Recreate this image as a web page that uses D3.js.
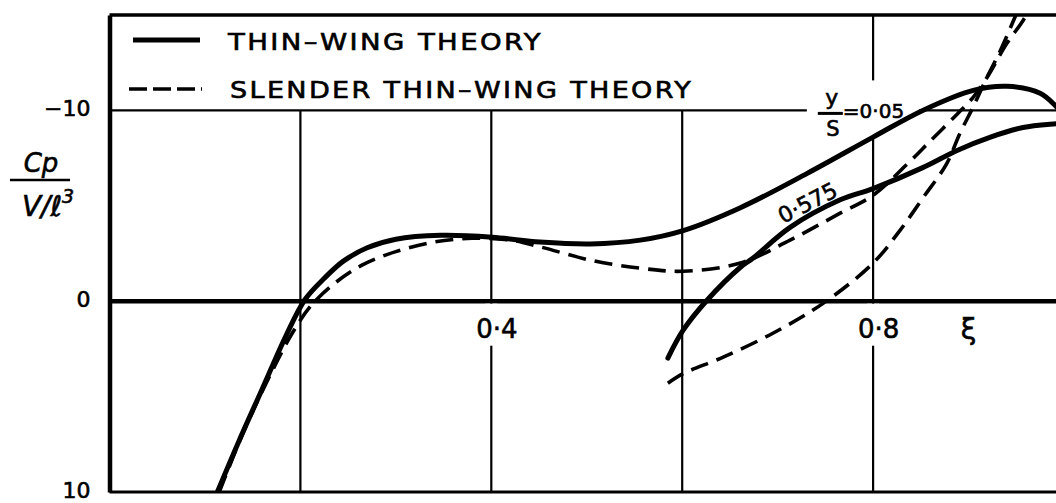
<!DOCTYPE html>
<html>
<head>
<meta charset="utf-8">
<script src="https://cdn.jsdelivr.net/npm/d3@7"></script>
<style>
  html, body { margin: 0; padding: 0; background: #fff; }
  svg { display: block; }
  text { font-family: "DejaVu Sans", sans-serif; fill: #000; stroke: #000; stroke-width: 0.6px; }
</style>
</head>
<body>
<svg id="chart" width="1056" height="503"></svg>
<script>
// Chordwise position ξ and pressure coefficient Cp/(V/ℓ³) for two spanwise stations
const thinWing005 = [
  [0.113, 10.0], [0.135, 7.4], [0.160, 4.6], [0.185, 1.8], [0.205, -0.1],
  [0.225, -1.2], [0.245, -2.1], [0.270, -2.8], [0.300, -3.25], [0.347, -3.45],
  [0.401, -3.35], [0.451, -3.1], [0.504, -3.0], [0.556, -3.2], [0.601, -3.7],
  [0.661, -4.9], [0.731, -6.7], [0.800, -8.6], [0.852, -10.0], [0.905, -11.05],
  [0.940, -11.26], [0.975, -10.9], [0.992, -10.2], [1.005, -9.5]
];
const thinWing0575 = [
  [0.585, 2.98], [0.601, 1.52], [0.626, -0.05], [0.661, -1.78], [0.674, -2.25],
  [0.713, -3.87], [0.765, -5.3], [0.800, -5.9], [0.852, -7.0], [0.888, -7.9],
  [0.923, -8.6], [0.957, -9.1], [0.992, -9.3], [1.005, -9.35]
];
const slender005 = [
  [0.115, 10.0], [0.140, 6.9], [0.170, 3.7], [0.190, 1.8], [0.210, 0.3],
  [0.235, -0.9], [0.265, -1.9], [0.300, -2.6], [0.340, -3.1], [0.380, -3.3],
  [0.420, -3.2], [0.451, -2.85], [0.504, -2.15], [0.556, -1.73], [0.601, -1.57],
  [0.661, -2.0], [0.713, -3.2], [0.765, -4.6], [0.800, -5.55], [0.836, -7.2],
  [0.860, -8.4], [0.888, -9.8], [0.905, -10.7], [0.919, -11.7], [0.940, -13.5],
  [0.957, -14.7], [0.965, -15.4]
];
const slender0575 = [
  [0.585, 4.3], [0.601, 3.8], [0.643, 2.93], [0.695, 1.68], [0.748, 0.1],
  [0.800, -2.0], [0.828, -3.7], [0.852, -5.4], [0.877, -7.2], [0.891, -8.8],
  [0.905, -10.2], [0.919, -11.7], [0.933, -13.1], [0.947, -14.7], [0.953, -15.4]
];

const gridXValues = [0.2, 0.4, 0.6, 0.8];
const xTickValues = [0.4, 0.8];
const xTickLabels = ["0·4", "0·8"];
const yTickValues = [-10, 0, 10];
const yTickLabels = ["−10", "0", "10"];
const legendLabels = ["THIN–WING THEORY", "SLENDER THIN–WING THEORY"];

const svg = d3.select("#chart");
const W = 1056, H = 503;

const x = d3.scaleLinear().domain([0, 1]).range([109.5, 1064]);
const y = d3.scaleLinear().domain([-15, 10]).range([15, 492]);

const ink = "#000";

// --- grid ---
const grid = svg.append("g");
grid.append("line").attr("x1", x(0)).attr("x2", W).attr("y1", y(-15)).attr("y2", y(-15))
  .attr("stroke", ink).attr("stroke-width", 3.5);
grid.append("line").attr("x1", x(0)).attr("x2", W).attr("y1", y(-10)).attr("y2", y(-10))
  .attr("stroke", ink).attr("stroke-width", 2.2);
grid.append("line").attr("x1", x(0)).attr("x2", W).attr("y1", y(10)).attr("y2", y(10))
  .attr("stroke", ink).attr("stroke-width", 3);
// vertical lines; only the 0.8 line runs up through the legend strip
grid.selectAll("line.vgrid").data(gridXValues).join("line")
  .attr("class", "vgrid")
  .attr("x1", d => x(d)).attr("x2", d => x(d))
  .attr("y1", d => d === 0.8 ? y(-15) : y(-10)).attr("y2", y(10))
  .attr("stroke", ink).attr("stroke-width", 2.2);
// zero line
grid.append("line").attr("x1", x(0)).attr("x2", W).attr("y1", y(0)).attr("y2", y(0))
  .attr("stroke", ink).attr("stroke-width", 4.5);

// knock-outs so labels sit in gaps of the grid
const knock = svg.append("g");
knock.selectAll("rect").data(xTickValues).join("rect")
  .attr("x", d => x(d) - 6).attr("width", 12)
  .attr("y", y(0) + 2.5).attr("height", 42)
  .attr("fill", "#fff");
const lblX = 0.74, lblY = -10;
const ax = x(lblX), ay = y(lblY);
knock.append("rect")
  .attr("x", ax - 9).attr("width", 112)
  .attr("y", ay - 30).attr("height", 55)
  .attr("fill", "#fff");

// --- axes ---
const yAxis = d3.axisLeft(y).tickValues(yTickValues).tickSize(0).tickSizeOuter(0)
  .tickPadding(19).tickFormat((d, i) => yTickLabels[i]);
const gy = svg.append("g").attr("transform", `translate(${x(0)},0)`).call(yAxis);
gy.select(".domain").attr("stroke", ink).attr("stroke-width", 4.5);
gy.selectAll("text").attr("font-family", "DejaVu Sans, sans-serif")
  .attr("font-size", 22).attr("fill", ink).attr("dy", "0.24em");

const xAxis = d3.axisBottom(x).tickValues(xTickValues).tickSize(0)
  .tickPadding(18).tickFormat((d, i) => xTickLabels[i]);
const gx = svg.append("g").attr("transform", `translate(5,${y(0)})`).call(xAxis);
gx.select(".domain").remove();
gx.selectAll("text").attr("font-family", "DejaVu Sans, sans-serif")
  .attr("font-size", 26).attr("fill", ink);

// --- curves ---
svg.append("clipPath").attr("id", "plotClip").append("rect")
  .attr("x", x(0)).attr("y", y(-15)).attr("width", W - x(0)).attr("height", y(10) - y(-15));

const line = d3.line().x(d => x(d[0])).y(d => y(d[1])).curve(d3.curveCatmullRom.alpha(0.5));
const curves = svg.append("g").attr("clip-path", "url(#plotClip)");

[slender005, slender0575].forEach(s => {
  curves.append("path").datum(s).attr("d", line)
    .attr("fill", "none").attr("stroke", ink).attr("stroke-width", 3.6)
    .attr("stroke-dasharray", "18,9");
});
[thinWing005, thinWing0575].forEach(s => {
  curves.append("path").datum(s).attr("d", line)
    .attr("fill", "none").attr("stroke", ink).attr("stroke-width", 5)
    .attr("stroke-linecap", "round");
});

// --- legend ---
const lg = svg.append("g");
lg.append("line").attr("x1", 133).attr("x2", 200).attr("y1", 40).attr("y2", 40)
  .attr("stroke", ink).attr("stroke-width", 5);
lg.append("line").attr("x1", 129).attr("x2", 202).attr("y1", 89).attr("y2", 89)
  .attr("stroke", ink).attr("stroke-width", 3.6).attr("stroke-dasharray", "18,6");
lg.append("text").attr("x", 228).attr("y", 50).attr("font-size", 23)
  .attr("letter-spacing", 2)
  .attr("textLength", 315).attr("lengthAdjust", "spacingAndGlyphs").text(legendLabels[0]);
lg.append("text").attr("x", 230).attr("y", 98).attr("font-size", 23)
  .attr("letter-spacing", 2)
  .attr("textLength", 463).attr("lengthAdjust", "spacingAndGlyphs").text(legendLabels[1]);

// --- curve annotations ---
const ann = svg.append("g");
ann.append("text").attr("x", ax + 16).attr("y", ay - 5).attr("font-size", 22)
  .attr("text-anchor", "middle").text("y");
ann.append("line").attr("x1", ax + 2).attr("x2", ax + 27).attr("y1", ay + 3).attr("y2", ay + 3)
  .attr("stroke", ink).attr("stroke-width", 3);
ann.append("text").attr("x", ax + 17).attr("y", ay + 26).attr("font-size", 21)
  .attr("text-anchor", "middle").text("S");
ann.append("text").attr("x", ax + 27).attr("y", ay + 8).attr("font-size", 20)
  .text("=0·05");

ann.append("text").attr("font-size", 22).attr("text-anchor", "middle")
  .attr("transform", `translate(${x(0.735)},${y(-4.8)}) rotate(-27)`)
  .text("0·575");

// x-axis symbol
ann.append("text").attr("x", x(0.9)).attr("y", y(0) + 38).attr("font-size", 28)
  .attr("text-anchor", "middle").text("ξ");

// y-axis title as a fraction
const yt = svg.append("g");
yt.append("text").attr("x", 41).attr("y", 172).attr("font-size", 26)
  .attr("font-style", "italic").attr("text-anchor", "middle").text("Cp");
yt.append("line").attr("x1", 10).attr("x2", 70).attr("y1", 180).attr("y2", 180)
  .attr("stroke", ink).attr("stroke-width", 2.5);
const den = yt.append("text").attr("x", 48).attr("y", 216).attr("font-size", 28)
  .attr("font-style", "italic").attr("text-anchor", "middle");
den.append("tspan").text("V/ℓ");
den.append("tspan").attr("font-size", 19).attr("dy", -13).text("3");
</script>
</body>
</html>
